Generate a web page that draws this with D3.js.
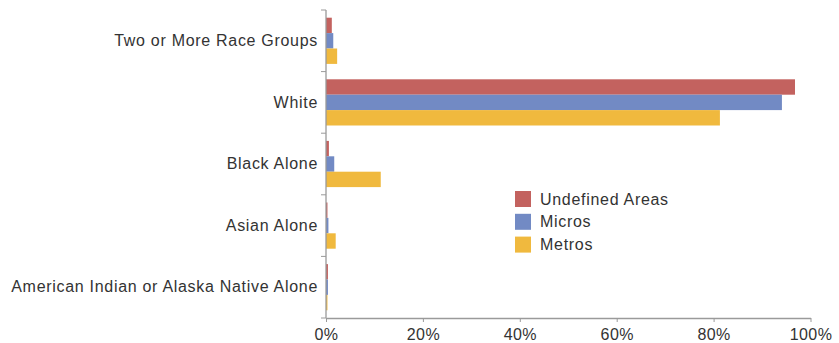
<!DOCTYPE html>
<html>
<head>
<meta charset="utf-8">
<script src="https://cdn.jsdelivr.net/npm/d3@7"></script>
<style>
  html, body { margin: 0; padding: 0; background: #fff; }
  svg { display: block; font-family: "Liberation Sans", Arial, Helvetica, sans-serif; }
</style>
</head>
<body>
<svg id="chart" width="839" height="343"></svg>
<script>
// Race groups, top to bottom
const categories = [
  "Two or More Race Groups",
  "White",
  "Black Alone",
  "Asian Alone",
  "American Indian or Alaska Native Alone"
];
const seriesNames = ["Undefined Areas", "Micros", "Metros"];
const seriesColors = ["#c3625f", "#728ac4", "#f0b93e"];

// Share of population (%) per series, in category order
const undefinedAreas = [1.2, 96.8, 0.6, 0.3, 0.4];
const micros = [1.5, 94.1, 1.7, 0.5, 0.4];
const metros = [2.3, 81.3, 11.3, 2.0, 0.3];

const xTicks = [0, 20, 40, 60, 80, 100];

const seriesValues = [undefinedAreas, micros, metros];

const svg = d3.select("#chart");
const plotLeft = 326, plotRight = 810.5, plotTop = 10, plotBottom = 318;

const x = d3.scaleLinear().domain([0, 100]).range([plotLeft, plotRight]);
const y = d3.scaleBand().domain(categories).range([plotTop, plotBottom]);
const inner = d3.scaleBand().domain(seriesNames)
  .range([0, y.bandwidth()]).paddingOuter(0.5).paddingInner(0);

// bars
categories.forEach((cat, ci) => {
  const g = svg.append("g").attr("transform", `translate(0,${y(cat)})`);
  seriesNames.forEach((s, si) => {
    const v = seriesValues[si][ci];
    g.append("rect")
      .attr("x", x(0))
      .attr("y", inner(s))
      .attr("width", x(v) - x(0))
      .attr("height", inner.bandwidth())
      .attr("fill", seriesColors[si]);
  });
});

// x axis
const xAxis = svg.append("g")
  .attr("transform", `translate(0,${plotBottom})`)
  .call(d3.axisBottom(x).tickValues(xTicks).tickFormat(d => d + "%").tickSize(4).tickSizeOuter(0));
xAxis.select(".domain").attr("stroke", "#9a9a9a").attr("stroke-width", 1.3);
xAxis.selectAll(".tick line").attr("stroke", "#9a9a9a");
xAxis.selectAll(".tick text")
  .attr("fill", "#333")
  .attr("font-size", 16)
  .attr("letter-spacing", 0.4)
  .attr("dy", "0.95em")
  .attr("font-family", "Liberation Sans, Arial, sans-serif");

// y axis: boundary ticks between groups
svg.append("line")
  .attr("x1", plotLeft).attr("x2", plotLeft).attr("y1", plotTop).attr("y2", plotBottom)
  .attr("stroke", "#9a9a9a").attr("stroke-width", 1.3);
const bounds = categories.map(c => y(c)).concat([plotBottom]);
svg.selectAll(".ybound").data(bounds).enter().append("line")
  .attr("x1", plotLeft - 5).attr("x2", plotLeft)
  .attr("y1", d => d).attr("y2", d => d)
  .attr("stroke", "#9a9a9a");

svg.selectAll(".ylabel").data(categories).enter().append("text")
  .attr("x", plotLeft - 8)
  .attr("y", d => y(d) + y.bandwidth() / 2 - 0.5)
  .attr("dy", "0.35em")
  .attr("text-anchor", "end")
  .attr("font-size", 16)
  .attr("letter-spacing", 0.7)
  .attr("fill", "#333")
  .text(d => d);

// legend
const legend = svg.append("g").attr("transform", "translate(515,191)");
seriesNames.forEach((s, i) => {
  legend.append("rect")
    .attr("x", 0).attr("y", i * 22.8)
    .attr("width", 16).attr("height", 16)
    .attr("fill", seriesColors[i]);
  legend.append("text")
    .attr("x", 25).attr("y", i * 22.8 + 8)
    .attr("dy", "0.35em")
    .attr("font-size", 16)
    .attr("letter-spacing", 0.7)
    .attr("fill", "#333")
    .text(s);
});
</script>
</body>
</html>
